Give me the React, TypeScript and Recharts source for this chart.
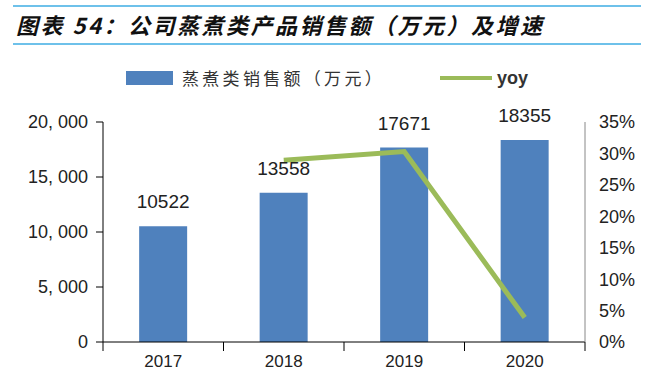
import React from 'react';
import { ComposedChart, Bar, Line, XAxis, YAxis, LabelList } from 'recharts';

const years = ['2017', '2018', '2019', '2020'];
const sales = [10522, 13558, 17671, 18355];
const yoy = [null, 0.289, 0.303, 0.039];
const salesTicks = [0, 5000, 10000, 15000, 20000];
const yoyTicks = [0, 0.05, 0.1, 0.15, 0.2, 0.25, 0.3, 0.35];

const data = years.map((year, i) => ({ year, sales: sales[i], yoy: yoy[i] }));

const numFont = '"Liberation Sans", Arial, sans-serif';
const cjkFont = '"Noto Sans CJK SC", "Liberation Sans", sans-serif';

const fmtSales = (v: number) =>
  v === 0 ? '0' : `${Math.floor(v / 1000)}, ${String(v % 1000).padStart(3, '0')}`;

const YearTick = (props: any) => {
  const { x, y, payload, index, visibleTicksCount } = props;
  const half = payload.offset || 0;
  const top = y - 13;
  const isLast = index === visibleTicksCount - 1;
  return (
    <g>
      <line x1={x - half} x2={x - half} y1={top} y2={top + 9} stroke="#000" />
      {isLast && <line x1={x + half} x2={x + half} y1={top} y2={top + 9} stroke="#000" />}
      <text x={x} y={y} dy="0.71em" textAnchor="middle" fontSize={17} fill="#222" fontFamily={numFont}>
        {payload.value}
      </text>
    </g>
  );
};

const App = () => {
  return (
    <div style={{ position: 'absolute', left: 0, top: 0, width: 658, height: 373, background: '#fff', overflow: 'hidden' }}>
      <div style={{ position: 'absolute', left: 13, top: 5, width: 628, height: 2, background: '#6EC1EA' }} />
      <div
        style={{
          position: 'absolute', left: 16, top: 9, fontFamily: cjkFont, fontSize: 22, fontWeight: 'bold',
          fontStyle: 'italic', letterSpacing: 2.5, color: '#111', lineHeight: '30px', whiteSpace: 'nowrap',
        }}
      >
        图表 54：公司蒸煮类产品销售额（万元）及增速
      </div>
      <div style={{ position: 'absolute', left: 13, top: 43, width: 628, height: 2, background: '#6EC1EA' }} />

      <div style={{ position: 'absolute', left: 126, top: 71, width: 47, height: 14, background: '#4F81BD' }} />
      <div
        style={{
          position: 'absolute', left: 182, top: 64, fontFamily: cjkFont, fontSize: 17, letterSpacing: 3.3,
          color: '#333', lineHeight: '28px', whiteSpace: 'nowrap',
        }}
      >
        蒸煮类销售额（万元）
      </div>
      <div style={{ position: 'absolute', left: 440, top: 76, width: 52, height: 4, background: '#9BBB59' }} />
      <div
        style={{
          position: 'absolute', left: 497, top: 64, fontFamily: numFont, fontSize: 18, fontWeight: 'bold',
          color: '#333', lineHeight: '28px',
        }}
      >
        yoy
      </div>

      <div style={{ position: 'absolute', left: 0, top: 0 }}>
        <ComposedChart width={658} height={373} data={data} margin={{ top: 122, right: 0, bottom: 0, left: 0 }} barCategoryGap="30%">
          <XAxis
            dataKey="year"
            height={31}
            stroke="#000"
            tickLine={false}
            tickSize={0}
            tickMargin={13}
            tick={<YearTick />}
            interval={0}
          />
          <YAxis
            yAxisId="left"
            width={103}
            domain={[0, 20000]}
            ticks={salesTicks}
            tickFormatter={fmtSales}
            stroke="#000"
            tickSize={7}
            tickMargin={8}
            tick={{ fontSize: 18, fill: '#222', fontFamily: numFont }}
            interval={0}
          />
          <YAxis
            yAxisId="right"
            orientation="right"
            width={73}
            domain={[0, 0.35]}
            ticks={yoyTicks}
            tickFormatter={(v: number) => `${Math.round(v * 100)}%`}
            stroke="#888"
            tickLine={false}
            tickSize={0}
            tickMargin={14}
            tick={{ fontSize: 18, fill: '#222', fontFamily: numFont }}
            interval={0}
          />
          <Bar yAxisId="left" dataKey="sales" fill="#4F81BD" isAnimationActive={false}>
            <LabelList dataKey="sales" position="top" offset={18} fontSize={19} fill="#222" fontFamily={numFont} />
          </Bar>
          <Line
            yAxisId="right"
            dataKey="yoy"
            stroke="#9BBB59"
            strokeWidth={5}
            dot={false}
            activeDot={false}
            isAnimationActive={false}
          />
        </ComposedChart>
      </div>
    </div>
  );
};

export default App;
